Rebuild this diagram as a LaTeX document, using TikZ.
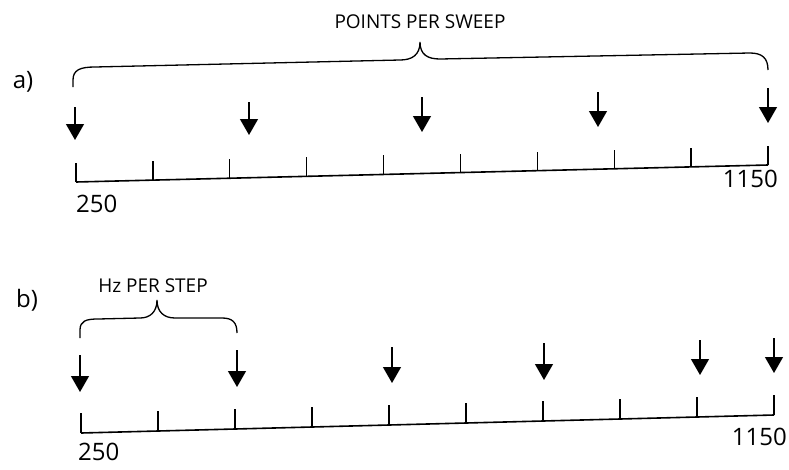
\documentclass[tikz,border=0pt]{standalone}
\usepackage{fontspec}
\setmainfont{Open Sans}
\usetikzlibrary{arrows.meta, positioning, calc}
\tikzset{
  axis line/.style={line width=1.6pt, black},
  tick mark/.style={line width=1.3pt, black},
  sweep arrow/.style={-{Triangle[length=16pt, width=18pt]}, line width=1.3pt, black},
  brace line/.style={line width=1.3pt, black},
  num label/.style={font=\fontsize{24}{28}\selectfont, inner sep=0pt},
  part label/.style={font=\fontsize{24}{28}\selectfont, inner sep=0pt},
  brace label/.style={font=\fontsize{19}{22}\selectfont, inner sep=0pt},
}

\begin{document}
\begin{tikzpicture}[x=1pt, y=-1pt]
  \useasboundingbox (0,0) rectangle (789,469);

  % a) points per sweep
  \node[part label] (partA) at (23,82) {a)};
  \draw[brace line] (73,87) -- (73,80) .. controls (73,70) and (80,67) .. (95,67)
    -- (400,60) .. controls (412,60) and (420,55) .. (420,42)
    .. controls (420,55) and (428,59) .. (440,59)
    -- (750,53) .. controls (762,53) and (768,58) .. (768,70);
  \coordinate (peakA) at (420,42);
  \node[brace label, above=13pt of peakA] (sweepLbl) {POINTS PER SWEEP};

  \foreach \x/\yt/\yb [count=\i] in {75/107/140, 249/102/135, 422/97/132, 598/92/127, 768/88/123} {
    \coordinate (aTop\i) at (\x,\yt);
    \coordinate (aTip\i) at (\x,\yb);
    \draw[sweep arrow] (aTop\i) -- (aTip\i);
  }

  \coordinate (axA0) at (76,182);
  \coordinate (axA1) at (768,165);
  \draw[axis line] (axA0) -- (axA1);
  \foreach \t in {0,...,9}
    \draw[tick mark] ($(axA0)!\t/9!(axA1)$) -- ++(0,-19);
  \node[num label, anchor=north west] (loA) at (76,195) {250};
  \node[num label, anchor=north east] (hiA) at (778,170) {1150};

  % b) Hz per step
  \node[part label] (partB) at (27,300) {b)};
  \draw[brace line] (80,338) -- (80,330) .. controls (80,321) and (86,319) .. (98,319)
    -- (140,318) .. controls (150,318) and (157,312) .. (157,300)
    .. controls (157,312) and (164,318) .. (175,318)
    -- (222,318) .. controls (232,318) and (237,322) .. (237,333);
  \coordinate (peakB) at (157,300);
  \node[brace label, above=7pt of peakB, xshift=-4pt] (stepLbl) {Hz PER STEP};

  \foreach \x/\yt/\yb [count=\i] in {80/355/392, 237/350/387, 392/347/383, 544/343/380, 700/340/375, 774/338/373} {
    \coordinate (bTop\i) at (\x,\yt);
    \coordinate (bTip\i) at (\x,\yb);
    \draw[sweep arrow] (bTop\i) -- (bTip\i);
  }

  \coordinate (axB0) at (81,433);
  \coordinate (axB1) at (774,415);
  \draw[axis line] (axB0) -- (axB1);
  \foreach \t in {0,...,9}
    \draw[tick mark] ($(axB0)!\t/9!(axB1)$) -- ++(0,-20);
  \node[num label, anchor=north west] (loB) at (78,443) {250};
  \node[num label, anchor=north east] (hiB) at (787,428) {1150};
\end{tikzpicture}
\end{document}
